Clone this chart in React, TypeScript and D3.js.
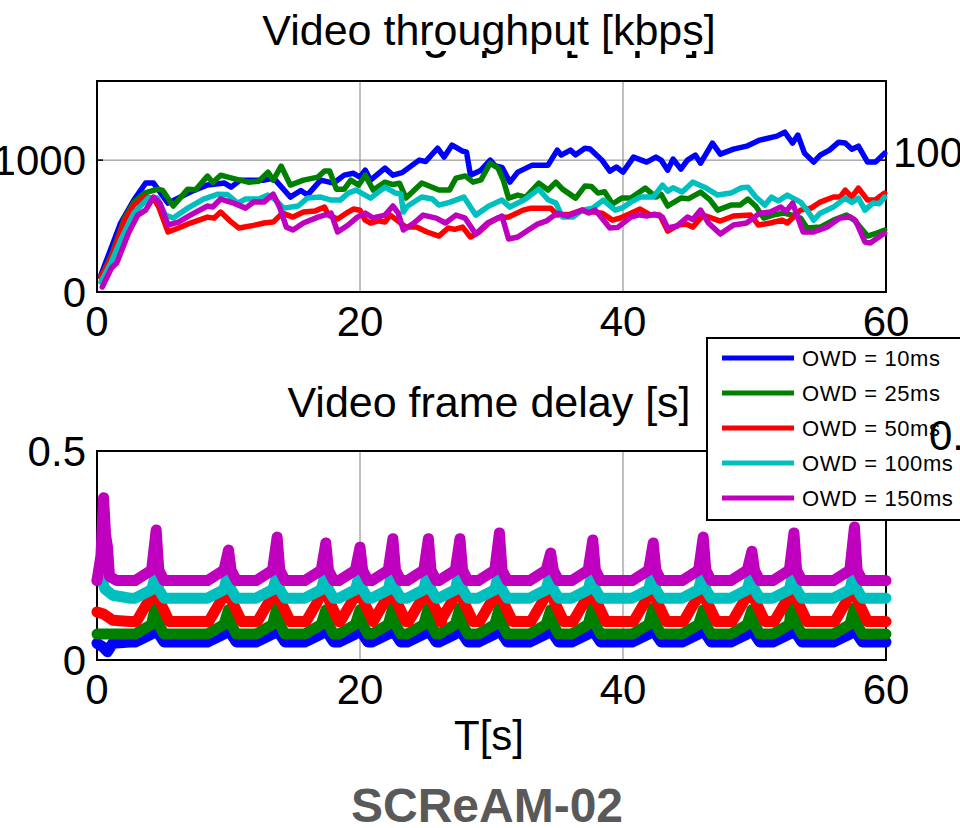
import React, { useEffect, useRef } from 'react';
import * as d3 from 'd3';

const size = { width: 960, height: 828 };
const font = 'Liberation Sans, Arial, sans-serif';

const seriesNames = ['OWD = 10ms', 'OWD = 25ms', 'OWD = 50ms', 'OWD = 100ms', 'OWD = 150ms'];
const seriesColors = ['#0000ff', '#008000', '#ff0000', '#00bfbf', '#bf00bf'];

const xTicks = [0, 20, 40, 60];
const rateTicks = [0, 1000];
const delayTicks = [0, 0.5];

// Video throughput [kbps], [time s, value]
const rate10: [number, number][] = [
  [0.3, 129], [1.8, 523], [2.8, 697], [3.7, 826], [4.3, 826], [5.4, 674], [7.1, 758], [8.4, 811], [9.7, 826], [10.2, 795],
  [10.9, 848], [12.7, 848], [13.3, 860], [13.6, 845], [14.7, 720], [15.5, 770], [16, 735], [17, 848], [18, 826], [18.8, 886],
  [19.5, 900], [20, 871], [20.4, 924], [20.8, 848], [21.9, 939], [22.5, 886], [23.2, 905], [24.5, 1000], [25, 990], [25.9, 1090],
  [26.4, 1023], [27, 1114], [27.8, 1068], [28.1, 1060], [28.4, 886], [29.2, 924], [29.9, 1000], [30.3, 955], [30.8, 945], [31.4, 833],
  [32, 909], [33.1, 962], [34.3, 962], [35, 1076], [35.3, 1038], [36, 1076], [36.4, 1040], [37.1, 1090], [37.5, 1085], [38.4, 1000],
  [39, 917], [39.5, 948], [40, 909], [40.8, 1023], [41.8, 985], [42.5, 1023], [42.9, 1000], [43.4, 924], [43.8, 1008], [44.4, 932],
  [44.9, 1000], [45.5, 1038], [45.9, 977], [46.8, 1129], [47.4, 1045], [48.4, 1083], [49.4, 1106], [50.4, 1152], [51.7, 1182], [52.3, 1212],
  [52.9, 1129], [53.3, 1190], [53.8, 1053], [54.5, 985], [55, 1038], [55.7, 1076], [56.4, 1136], [56.9, 1130], [57.4, 1083], [57.9, 1106],
  [58.6, 985], [59.2, 985], [59.9, 1053],
];
const rate25: [number, number][] = [
  [0.3, 110], [1.1, 280], [2.1, 560], [2.8, 680], [3.6, 750], [4.6, 780], [5, 770], [5.8, 652], [6.9, 780], [7.5, 775],
  [8.4, 879], [8.8, 830], [9.4, 886], [10.4, 860], [11.5, 833], [12.3, 840], [13, 909], [13.4, 848], [14, 955], [14.7, 811],
  [15.7, 848], [16.8, 871], [17.3, 917], [17.7, 917], [18.2, 780], [18.8, 780], [19.3, 848], [19.9, 811], [20.4, 886], [21, 773],
  [21.9, 833], [22.5, 815], [23, 825], [23.5, 712], [24.7, 826], [26, 773], [26.8, 773], [27.3, 864], [28, 880], [28.6, 833],
  [29.2, 850], [29.9, 977], [30.5, 939], [30.9, 848], [31.3, 712], [32, 735], [32.6, 720], [33.6, 826], [34.3, 773], [34.9, 833],
  [35.4, 780], [36.4, 712], [37.1, 803], [37.6, 800], [38.1, 750], [38.6, 760], [39.2, 667], [39.9, 712], [40.6, 712], [41.7, 788],
  [42.5, 720], [42.9, 740], [43.4, 652], [44.4, 712], [45, 708], [45.9, 758], [46.6, 700], [47.2, 621], [48.2, 659], [48.9, 659],
  [49.5, 705], [50.1, 650], [50.7, 561], [51.4, 583], [52.2, 598], [52.8, 585], [53.5, 561], [54, 485], [55, 492], [56, 545],
  [57, 583], [57.6, 545], [58.6, 424], [59.3, 447], [59.9, 470],
];
const rate50: [number, number][] = [
  [0.3, 114], [1.1, 265], [2.1, 545], [2.8, 659], [3.6, 720], [4.3, 710], [4.7, 644], [5.4, 455], [6.2, 485], [7.1, 523],
  [8.4, 568], [8.9, 560], [9.4, 606], [10.1, 540], [10.8, 485], [11.9, 505], [12.7, 523], [13.4, 530], [14.1, 598], [14.9, 568],
  [15.7, 606], [16.6, 615], [17.3, 644], [17.6, 583], [18.3, 553], [19.1, 606], [19.5, 629], [20, 620], [20.4, 545], [20.8, 523],
  [21.4, 540], [21.9, 530], [22.3, 583], [23.5, 492], [24.3, 492], [25.1, 455], [26, 424], [26.7, 485], [27.2, 475], [27.8, 492],
  [28.4, 417], [29, 450], [29.8, 523], [30.5, 561], [31.3, 568], [32.4, 621], [33, 636], [34, 636], [34.5, 636], [35, 583],
  [36, 590], [36.9, 621], [37.5, 610], [38.4, 598], [39.2, 545], [39.8, 561], [40.6, 598], [41.3, 629], [42.1, 583], [42.8, 583],
  [43.4, 462], [44.2, 508], [44.8, 515], [45.3, 492], [46.1, 583], [47.4, 538], [48.4, 576], [49.7, 583], [50.3, 508], [51.2, 523],
  [52.1, 545], [52.5, 523], [53.5, 621], [54.3, 636], [55, 682], [56, 720], [56.5, 720], [56.9, 773], [57.4, 720], [57.9, 788],
  [58.6, 697], [59.2, 700], [59.9, 750],
];
const rate100: [number, number][] = [
  [0.3, 76], [1.1, 230], [1.8, 394], [2.8, 598], [3.9, 712], [4.6, 712], [5.2, 583], [5.8, 561], [6.9, 636], [8.1, 705],
  [9.2, 742], [9.9, 740], [10.7, 674], [11.3, 705], [12.3, 705], [13, 735], [13.5, 705], [14.2, 636], [15.3, 652], [16, 712],
  [17, 720], [17.8, 697], [18.5, 697], [19.1, 750], [19.7, 773], [20.8, 712], [21.9, 795], [22.7, 750], [23.1, 745], [23.3, 606],
  [23.6, 650], [24.7, 720], [25.5, 705], [26, 659], [26.8, 680], [27.9, 720], [28.8, 583], [29.8, 652], [30.8, 697], [31.4, 644],
  [32.5, 700], [33.6, 780], [34.3, 700], [34.9, 674], [35.4, 568], [36.2, 568], [36.9, 621], [37.7, 636], [38.5, 697], [39.4, 621],
  [40, 640], [40.6, 682], [41.3, 720], [42.3, 720], [43, 811], [43.4, 765], [43.8, 790], [44.5, 758], [45.3, 833], [46.2, 795],
  [47.2, 735], [48.2, 750], [49, 790], [49.5, 795], [50.1, 720], [50.8, 659], [51.3, 720], [51.8, 690], [52.5, 735], [53.5, 682],
  [54, 620], [54.5, 545], [55, 598], [56, 644], [56.9, 712], [57.4, 680], [57.9, 712], [58.4, 621], [59, 674], [59.5, 670],
  [59.9, 720],
];
const rate150: [number, number][] = [
  [0.4, 38], [1.1, 182], [1.5, 220], [2.4, 447], [3.1, 583], [3.7, 621], [4.3, 720], [4.8, 670], [5.4, 508], [6.2, 530],
  [7.1, 583], [8.4, 652], [8.8, 645], [9.4, 705], [10.4, 674], [11.3, 636], [11.9, 682], [12.7, 682], [13.4, 742], [13.9, 640],
  [14.4, 492], [14.9, 470], [15.7, 523], [16.8, 568], [17.8, 598], [18.3, 455], [19.1, 508], [19.8, 568], [20.4, 598], [21, 561],
  [21.9, 583], [22.5, 652], [22.9, 600], [23.3, 470], [24.1, 523], [24.8, 583], [25.8, 560], [26.5, 523], [27.3, 583], [28, 560],
  [28.8, 439], [29.7, 523], [30.8, 576], [31.3, 402], [32, 417], [32.8, 470], [33.5, 515], [34.2, 540], [35, 598], [35.8, 576],
  [36.9, 621], [37.4, 600], [37.9, 621], [39, 485], [39.6, 490], [40.6, 568], [41.2, 585], [41.8, 576], [42.4, 590], [43, 568],
  [43.4, 485], [44.1, 500], [44.9, 568], [45.3, 550], [45.9, 621], [46.5, 523], [47.4, 439], [48.4, 508], [49.4, 523], [50.4, 598],
  [51.2, 606], [52, 644], [52.4, 610], [52.9, 674], [53.7, 455], [54.5, 455], [55.5, 492], [56.5, 561], [57.3, 568], [57.7, 540],
  [58.4, 379], [58.8, 371], [59.9, 447],
];
const rateSeries = [rate10, rate25, rate50, rate100, rate150];

// Video frame delay [s]: shared peak times, then per series start, floor, shoulder and peak levels
const peakTimes = [4.5, 10.0, 13.7, 17.4, 20.0, 22.5, 25.2, 27.6, 30.6, 34.5, 37.7, 42.3, 46.1, 49.8, 53.0, 57.6];

const delayStart: [number, number][][] = [
  [[0, 0.04], [0.5, 0.03], [0.8, 0.02], [1.2, 0.04], [2.5, 0.043]],
  [[0, 0.062], [2.5, 0.062]],
  [[0, 0.115], [0.5, 0.11], [1.2, 0.095], [2.5, 0.092]],
  [[0, 0.19], [0.3, 0.2], [0.6, 0.17], [1.2, 0.155], [2.5, 0.148]],
  [[0, 0.19], [0.3, 0.25], [0.5, 0.388], [0.65, 0.3], [0.8, 0.27], [0.95, 0.2], [1.5, 0.19]],
];
const delayFloor = [0.043, 0.062, 0.092, 0.148, 0.19];
const delayShoulder = [0.062, 0.085, 0.135, 0.168, 0.215];
const delayPeaks = [
  [0.08, 0.088, 0.103, 0.09, 0.09, 0.08, 0.085, 0.09, 0.09, 0.088, 0.092, 0.09, 0.09, 0.09, 0.1, 0.095],
  [0.136, 0.12, 0.127, 0.12, 0.12, 0.125, 0.125, 0.125, 0.125, 0.12, 0.125, 0.125, 0.12, 0.12, 0.18, 0.125],
  [0.16, 0.167, 0.16, 0.175, 0.168, 0.168, 0.168, 0.17, 0.163, 0.172, 0.168, 0.17, 0.16, 0.168, 0.168, 0.172],
  [0.208, 0.215, 0.203, 0.21, 0.21, 0.22, 0.22, 0.22, 0.215, 0.21, 0.212, 0.215, 0.215, 0.212, 0.22, 0.215],
  [0.311, 0.263, 0.294, 0.28, 0.27, 0.29, 0.29, 0.29, 0.304, 0.256, 0.287, 0.28, 0.294, 0.26, 0.304, 0.318],
];
// the 50ms trace has wide rounded humps, the others sharp spikes
const broadHump = [false, false, true, false, false];

function delayPoints(k: number): [number, number][] {
  const pts: [number, number][] = [...delayStart[k]];
  const b = delayFloor[k];
  const s = delayShoulder[k];
  peakTimes.forEach((tp, i) => {
    const p = delayPeaks[k][i];
    if (broadHump[k]) {
      pts.push([tp - 1.5, b], [tp - 0.7, s], [tp - 0.15, p], [tp + 0.35, s], [tp + 1.0, b]);
    } else {
      pts.push([tp - 1.6, b], [tp - 0.35, s], [tp, p], [tp + 0.2, s], [tp + 0.6, b]);
    }
  });
  pts.push([60, b]);
  return pts;
}

function Chart() {
  const ref = useRef<SVGSVGElement>(null);

  useEffect(() => {
    const svg = d3.select(ref.current);
    svg.selectAll('*').remove();

    const x = d3.scaleLinear().domain([0, 60]).range([97, 886]);
    const rateY = d3.scaleLinear().domain([0, 1600]).range([292, 81]);
    const delayY = d3.scaleLinear().domain([0, 0.5]).range([660, 451]);

    svg.append('rect').attr('width', size.width).attr('height', size.height).attr('fill', '#fff');

    // second, larger title copy: only the descenders below the white band show
    svg.append('text')
      .attr('x', 431).attr('y', 47)
      .attr('text-anchor', 'middle')
      .style('font', `51px ${font}`)
      .text('Video throughput [kbps]');
    svg.append('rect').attr('x', 0).attr('y', 0).attr('width', size.width).attr('height', 51).attr('fill', '#fff');

    function panel(y: d3.ScaleLinear<number, number>, yTicks: number[], fmt: (v: number) => string, gridY: number[]) {
      const [x0, x1] = x.range();
      const [yb, yt] = y.range();
      const g = svg.append('g');

      x.ticks(3).filter((t) => t > 0 && t < 60).forEach((t) => {
        g.append('line').attr('x1', x(t)).attr('x2', x(t)).attr('y1', yt).attr('y2', yb)
          .attr('stroke', '#808080').attr('stroke-width', 1);
      });
      gridY.forEach((v) => {
        g.append('line').attr('x1', x0).attr('x2', x1).attr('y1', y(v)).attr('y2', y(v))
          .attr('stroke', '#808080').attr('stroke-width', 1);
      });

      g.append('rect').attr('x', x0).attr('y', yt).attr('width', x1 - x0).attr('height', yb - yt)
        .attr('fill', 'none').attr('stroke', '#000').attr('stroke-width', 2);

      yTicks.forEach((v) => {
        g.append('line').attr('x1', x0).attr('x2', x0 + 6).attr('y1', y(v)).attr('y2', y(v))
          .attr('stroke', '#000').attr('stroke-width', 1.5);
        g.append('line').attr('x1', x1 - 6).attr('x2', x1).attr('y1', y(v)).attr('y2', y(v))
          .attr('stroke', '#000').attr('stroke-width', 1.5);
        g.append('text').attr('x', 86).attr('y', y(v) + 15)
          .attr('text-anchor', 'end').style('font', `42px ${font}`)
          .text(fmt(v));
      });
      xTicks.forEach((t) => {
        g.append('text').attr('x', x(t)).attr('y', yb + 44)
          .attr('text-anchor', 'middle').style('font', `42px ${font}`)
          .text(t);
      });
      return g;
    }

    // top panel: throughput
    const top = panel(rateY, rateTicks, (v) => String(v), [1000]);
    const rateLine = d3.line<[number, number]>().x((d) => x(d[0])).y((d) => rateY(d[1]));
    rateSeries.forEach((s, k) => {
      top.append('path').attr('d', rateLine(s) as string)
        .attr('fill', 'none').attr('stroke', seriesColors[k]).attr('stroke-width', 5.5)
        .attr('stroke-linejoin', 'round').attr('stroke-linecap', 'round');
    });
    svg.append('text').attr('x', 489).attr('y', 45).attr('text-anchor', 'middle')
      .style('font', `43px ${font}`).text('Video throughput [kbps]');

    // bottom panel: frame delay
    const bottom = panel(delayY, delayTicks, (v) => String(v), []);
    const delayLine = d3.line<[number, number]>().x((d) => x(d[0])).y((d) => delayY(d[1]));
    seriesColors.forEach((c, k) => {
      bottom.append('path').attr('d', delayLine(delayPoints(k)) as string)
        .attr('fill', 'none').attr('stroke', c).attr('stroke-width', 11)
        .attr('stroke-linejoin', 'round').attr('stroke-linecap', 'round');
    });
    svg.append('text').attr('x', 489).attr('y', 417).attr('text-anchor', 'middle')
      .style('font', `43px ${font}`).text('Video frame delay [s]');

    svg.append('text').attr('x', 489).attr('y', 750).attr('text-anchor', 'middle')
      .style('font', `42px ${font}`).text('T[s]');

    // legend
    const leg = svg.append('g');
    leg.append('rect').attr('x', 707).attr('y', 338).attr('width', 262).attr('height', 182)
      .attr('fill', '#fff').attr('stroke', '#000').attr('stroke-width', 2);
    seriesNames.forEach((name, k) => {
      const cy = 358 + k * 35;
      leg.append('line').attr('x1', 722).attr('x2', 794).attr('y1', cy).attr('y2', cy)
        .attr('stroke', seriesColors[k]).attr('stroke-width', 5);
      leg.append('text').attr('x', 802).attr('y', cy + 8)
        .style('font', `22px ${font}`).style('letter-spacing', '0.6px').text(name);
    });

    // right-hand tick labels of the overlaid axes, cut by the page edge
    svg.append('text').attr('x', 893).attr('y', 167).style('font', `42px ${font}`).text('1000');
    svg.append('text').attr('x', 929).attr('y', 450).style('font', `42px ${font}`).text('0.5');

    svg.append('text').attr('x', 487).attr('y', 822).attr('text-anchor', 'middle')
      .style('font', `bold 48px ${font}`).attr('fill', '#595959').text('SCReAM-02');
  }, []);

  return (
    <svg
      ref={ref}
      width={size.width}
      height={size.height}
      style={{ position: 'absolute', left: 0, top: 0, display: 'block' }}
    />
  );
}

export default function App() {
  return <Chart />;
}
